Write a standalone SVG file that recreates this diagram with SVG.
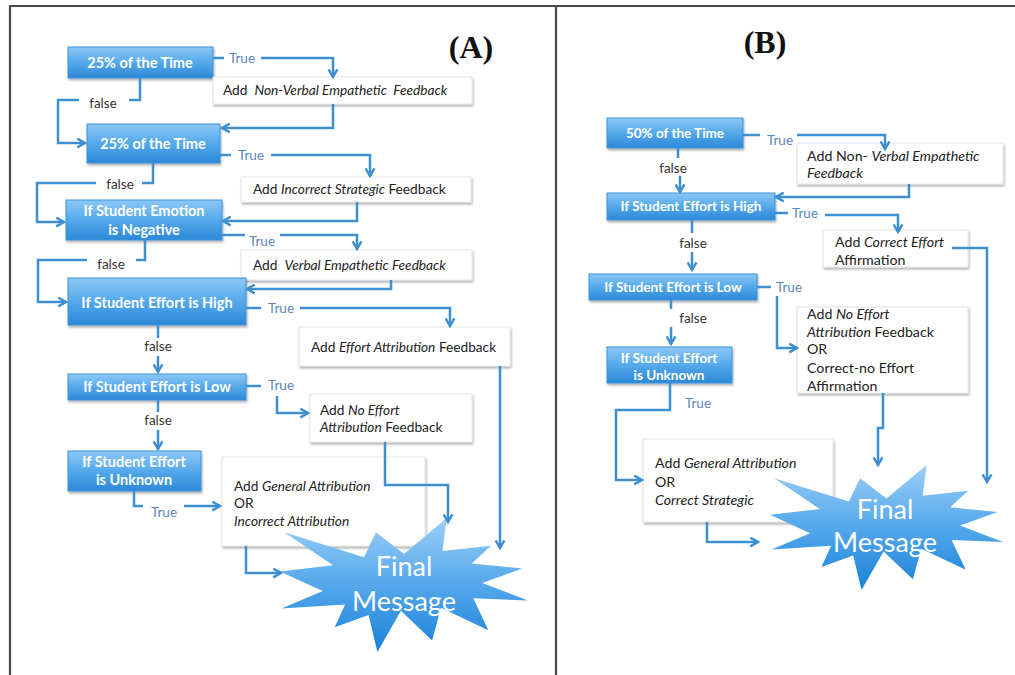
<svg xmlns="http://www.w3.org/2000/svg" width="1015" height="675" viewBox="0 0 1015 675">
<defs>
<linearGradient id="gBox" x1="0" y1="0" x2="0" y2="1"><stop offset="0" stop-color="#8cc8f5"/><stop offset="0.45" stop-color="#5aacec"/><stop offset="1" stop-color="#2b88d8"/></linearGradient>
<linearGradient id="gStar" x1="0" y1="0" x2="0" y2="1"><stop offset="0" stop-color="#9ccff7"/><stop offset="0.45" stop-color="#5aabec"/><stop offset="1" stop-color="#1a82da"/></linearGradient>
<filter id="sh" x="-10%" y="-10%" width="130%" height="150%"><feDropShadow dx="1" dy="2" stdDeviation="1.2" flood-color="#000" flood-opacity="0.3"/></filter>
<marker id="ar" viewBox="0 0 10 10" refX="8.5" refY="5" markerWidth="11" markerHeight="11" markerUnits="userSpaceOnUse" orient="auto"><path d="M1.5,1 L8.5,5 L1.5,9" fill="none" stroke="#3d8fd1" stroke-width="2.2"/></marker>
<path id="burst" d="M10800,5800 L14522,0 L14155,5325 L18380,4457 L16702,7315 L21097,8137 L17607,10475 L21600,13290 L16837,12942 L18145,18095 L14020,14457 L13247,19737 L10532,14935 L8485,21600 L7715,15627 L4762,17617 L5667,13937 L135,14587 L3722,11775 L0,8615 L4627,7617 L370,2295 L7312,6320 L8352,2295 Z"/>
</defs>
<style>
.frame{fill:none;stroke:#4a4a4a;stroke-width:2.2}
.bb{fill:url(#gBox);stroke:#3f92d8;stroke-width:1;filter:url(#sh)}
.wb{fill:#fff;stroke:#e4e4e4;stroke-width:1;filter:url(#sh)}
.bt{font-family:Lato,'Open Sans',sans-serif;font-size:14.5px;font-weight:700;fill:#fff;text-anchor:middle}
.bs{font-size:13.5px}
.wt{font-family:Lato,'Open Sans',sans-serif;font-size:13.7px;fill:#222;white-space:pre}
.wb2{font-size:14.2px}
.it{font-style:italic}
.c{fill:none;stroke:#3d8fd1;stroke-width:2.5}
.ca{marker-end:url(#ar)}
.tl{font-family:Lato,'Open Sans',sans-serif;font-size:13.5px;fill:#5b86b8;text-anchor:middle}
.fl{font-family:Lato,'Open Sans',sans-serif;font-size:13.5px;fill:#333;text-anchor:middle}
.ttl{font-family:'Liberation Serif',serif;font-weight:bold;font-size:32px;fill:#111;text-anchor:middle}
.fm{font-family:Lato,'Open Sans',sans-serif;font-size:27px;fill:#fff;text-anchor:middle}
.star{fill:url(#gStar);stroke:#3f95dc;stroke-width:1;vector-effect:non-scaling-stroke}
</style>
<rect width="1015" height="675" fill="#fff"/>
<g id="frame">
<path class="frame" d="M10,675 V6 H1015 M556,6 V675"/>
</g>
<text class="ttl" x="471" y="58">(A)</text>
<text class="ttl" x="765" y="53">(B)</text>

<g id="labels">
<text class="tl" x="242" y="63">True</text>
<text class="fl" x="103" y="108">false</text>
<text class="tl" x="251" y="160">True</text>
<text class="fl" x="120" y="189">false</text>
<text class="tl" x="262" y="246">True</text>
<text class="fl" x="111" y="269">false</text>
<text class="tl" x="281" y="313">True</text>
<text class="fl" x="158" y="351">false</text>
<text class="tl" x="281" y="390">True</text>
<text class="fl" x="158" y="425">false</text>
<text class="tl" x="164" y="517">True</text>
<text class="tl" x="780" y="145">True</text>
<text class="fl" x="673" y="173">false</text>
<text class="tl" x="805" y="218">True</text>
<text class="fl" x="693" y="248">false</text>
<text class="tl" x="789" y="292">True</text>
<text class="fl" x="693" y="323">false</text>
<text class="tl" x="698" y="408">True</text>
</g>

<g id="a1"><rect class="bb" x="68" y="47" width="145" height="31"/><text class="bt" x="140" y="68">25% of the Time</text></g>
<g id="a2"><rect class="wb" x="213" y="77" width="259" height="27"/><text class="wt" x="223" y="95">Add  <tspan class="it">Non-Verbal Empathetic  Feedback</tspan></text></g>
<g id="a3"><rect class="bb" x="87" y="124" width="133" height="39"/><text class="bt" x="153" y="149">25% of the Time</text></g>
<g id="a4"><rect class="wb" x="241" y="177" width="230" height="25"/><text class="wt" x="253" y="194">Add <tspan class="it">Incorrect Strategic</tspan> Feedback</text></g>
<g id="a5"><rect class="bb" x="66" y="200" width="156" height="40"/><text class="bt" x="144" y="216">If Student Emotion</text><text class="bt" x="144" y="235">is Negative</text></g>
<g id="a6"><rect class="wb" x="241" y="250" width="231" height="30"/><text class="wt" x="253" y="270">Add  <tspan class="it">Verbal Empathetic Feedback</tspan></text></g>
<g id="a7"><rect class="bb" x="68" y="278" width="178" height="47"/><text class="bt" x="157" y="308">If Student Effort is High</text></g>
<g id="a8"><rect class="wb" x="299" y="327" width="211" height="39"/><text class="wt" x="311" y="352">Add <tspan class="it">Effort Attribution</tspan> Feedback</text></g>
<g id="a9"><rect class="bb" x="68" y="374" width="178" height="26"/><text class="bt" x="157" y="392">If Student Effort is Low</text></g>
<g id="a10"><rect class="wb" x="310" y="394" width="162" height="48"/><text class="wt" x="320" y="415">Add <tspan class="it">No Effort</tspan></text><text class="wt" x="320" y="432"><tspan class="it">Attribution</tspan> Feedback</text></g>
<g id="a11"><rect class="bb" x="68" y="451" width="133" height="40"/><text class="bt" x="134" y="467">If Student Effort</text><text class="bt" x="134" y="485">is Unknown</text></g>
<g id="a12"><rect class="wb" x="222" y="457" width="203" height="89"/><text class="wt" x="234" y="491">Add <tspan class="it">General Attribution</tspan></text><text class="wt" x="234" y="508">OR</text><text class="wt it" x="234" y="526">Incorrect Attribution</text></g>
<g id="a13"><use href="#burst" class="star" transform="translate(280,518) scale(0.011481,0.006204)"/><text class="fm" x="404" y="576">Final</text><text class="fm" x="404" y="611">Message</text></g>

<g id="b1"><rect class="bb" x="607" y="118" width="136" height="30"/><text class="bt bs" x="675" y="138">50% of the Time</text></g>
<g id="b2"><rect class="wb" x="797" y="143" width="206" height="41"/><text class="wt wb2" x="807" y="161">Add Non- <tspan class="it">Verbal Empathetic</tspan></text><text class="wt wb2 it" x="807" y="178">Feedback</text></g>
<g id="b3"><rect class="bb" x="607" y="193" width="168" height="27"/><text class="bt bs" x="691" y="211">If Student Effort is High</text></g>
<g id="b4"><rect class="wb" x="823" y="230" width="145" height="37"/><text class="wt wb2" x="835" y="247">Add <tspan class="it">Correct Effort</tspan></text><text class="wt wb2" x="835" y="265">Affirmation</text></g>
<g id="b5"><rect class="bb" x="589" y="274" width="168" height="26"/><text class="bt bs" x="673" y="292">If Student Effort is Low</text></g>
<g id="b6"><rect class="wb" x="797" y="307" width="171" height="86"/><text class="wt wb2" x="807" y="319">Add <tspan class="it">No Effort</tspan></text><text class="wt wb2" x="807" y="337"><tspan class="it">Attribution</tspan> Feedback</text><text class="wt wb2" x="807" y="354">OR</text><text class="wt wb2" x="807" y="373">Correct-no Effort</text><text class="wt wb2" x="807" y="391">Affirmation</text></g>
<g id="b7"><rect class="bb" x="607" y="347" width="125" height="36"/><text class="bt bs" x="669" y="363">If Student Effort</text><text class="bt bs" x="669" y="380">is Unknown</text></g>
<g id="b8"><rect class="wb" x="643" y="439" width="190" height="83"/><text class="wt wb2" x="655" y="468">Add <tspan class="it">General Attribution</tspan></text><text class="wt wb2" x="655" y="487">OR</text><text class="wt wb2 it" x="655" y="505">Correct Strategic</text></g>
<g id="b9"><use href="#burst" class="star" transform="translate(770,465) scale(0.010787,0.005787)"/><text class="fm" x="885" y="519">Final</text><text class="fm" x="885" y="552">Message</text></g>

<g id="connectors">
<path class="c ca" d="M213,58 H224 M261,58 H333 V77"/>
<path class="c ca" d="M333,104 V128 H222"/>
<path class="c ca" d="M140,78 V100 H129 M79,100 H58 V143 H85"/>
<path class="c ca" d="M220,155 H231 M271,155 H370 V176"/>
<path class="c ca" d="M357,202 V221 H223"/>
<path class="c ca" d="M153,163 V183 H142 M96,183 H37 V222 H64"/>
<path class="c ca" d="M222,235 H245 M280,235 H357 V249"/>
<path class="c ca" d="M391,280 V289 H247"/>
<path class="c ca" d="M145,240 V260 H136 M87,260 H38 V302 H66"/>
<path class="c ca" d="M246,308 H261 M300,308 H450 V326"/>
<path class="c ca" d="M500,366 V548"/>
<path class="c ca" d="M158,325 V338 M158,356 V372"/>
<path class="c" d="M246,386 H261"/>
<path class="c ca" d="M277,396 V413 H308"/>
<path class="c ca" d="M385,442 V485 H448 V522"/>
<path class="c ca" d="M158,400 V412 M158,430 V449"/>
<path class="c ca" d="M134,491 V506 H143 M184,506 H220"/>
<path class="c ca" d="M246,546 V573 H281"/>

<path class="c ca" d="M743,135 H760 M797,135 H885 V149"/>
<path class="c ca" d="M909,184 V197 H776"/>
<path class="c ca" d="M678,148 V158 M680,176 V192"/>
<path class="c ca" d="M775,213 H788 M825,215 H898 V232"/>
<path class="c ca" d="M952,248 H987 V482"/>
<path class="c ca" d="M692,220 V233 M692,252 V270"/>
<path class="c" d="M757,287 H771"/>
<path class="c ca" d="M777,296 V348 H797"/>
<path class="c ca" d="M883,393 V428 H878 V465"/>
<path class="c ca" d="M671,300 V309 M671,327 V344"/>
<path class="c ca" d="M670,383 V410 H616 V480 H642"/>
<path class="c ca" d="M707,522 V542 H758"/>
</g>
</svg>
